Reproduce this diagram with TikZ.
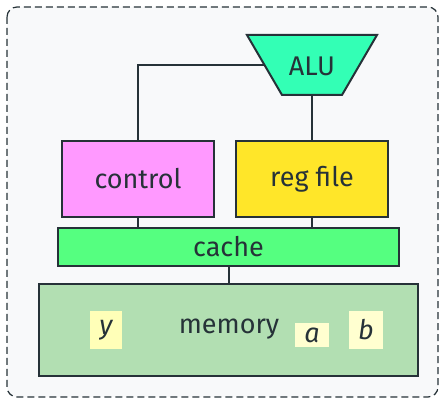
\documentclass[tikz,border=0pt]{standalone}
\usepackage{fontspec}
\setmainfont{Fira Sans}
\definecolor{ink}{HTML}{263238}
\definecolor{panel}{HTML}{F8F9FA}
\definecolor{alufill}{HTML}{33FFB5}
\definecolor{ctrlfill}{HTML}{FF99FF}
\definecolor{regfill}{HTML}{FFE629}
\definecolor{cachefill}{HTML}{55FF80}
\definecolor{memfill}{HTML}{B2DFB2}
\definecolor{tagfill}{HTML}{FFFFB8}
\definecolor{tagfilllight}{HTML}{FFFFD0}
\begin{document}
\begin{tikzpicture}[x=1pt,y=-1pt,
  every node/.style={text=ink, font=\fontsize{27}{32}\selectfont},
  unit/.style={draw=ink, line width=2pt, inner sep=0pt},
  wire/.style={draw=ink, line width=2pt},
  tag/.style={inner sep=0pt, font=\fontsize{27}{32}\selectfont\itshape}]
\useasboundingbox (0,0) rectangle (440,403);
% dashed frame around the whole unit
\draw[ink, line width=1.2pt, dash pattern=on 7pt off 4pt, rounded corners=10pt, fill=panel]
  (7,7) rectangle (438,397);

% ALU: inverted trapezium with its label
\draw[draw=ink, line width=2pt, line join=miter, fill=alufill]
  (247,35) -- (377,35) -- (342,95) -- (282,95) -- cycle;
\node (alu) at (312,66) {ALU};
\coordinate (aluleft) at (264.5,65);
\coordinate (alubottom) at (312,95);

% functional blocks
\node[unit, fill=ctrlfill, minimum width=152pt, minimum height=76pt] (control) at (138,179) {control};
\node[unit, fill=regfill, minimum width=152pt, minimum height=76pt] (regfile) at (312,179) {reg file};
\node[unit, fill=cachefill, minimum width=341pt, minimum height=38pt] (cache) at (228.5,247) {cache};
\node[unit, fill=memfill, minimum width=379pt, minimum height=92pt] (memory) at (228.5,330) {};
\node (memlabel) at (229,329) {memory};

% cells held in memory
\node[tag, fill=tagfill, minimum width=32pt, minimum height=38pt] (celly) at (106,330) {y};
\node[tag, fill=tagfilllight, minimum width=34pt, minimum height=24pt] (cella) at (312,335) {a};
\node[tag, fill=tagfilllight, minimum width=34pt, minimum height=38pt] (cellb) at (366,330) {b};

% connections between blocks
\draw[wire] (aluleft) -| (control.north);
\draw[wire] (alubottom) -- (regfile.north);
\draw[wire] (control.south) -- (control.south |- cache.north);
\draw[wire] (regfile.south) -- (regfile.south |- cache.north);
\draw[wire] (cache.south) -- (memory.north);
\end{tikzpicture}
\end{document}
